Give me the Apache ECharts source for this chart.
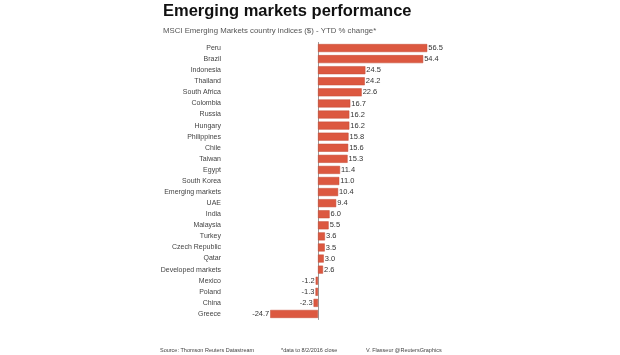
<!DOCTYPE html>
<html><head><meta charset="utf-8">
<script src="https://cdn.jsdelivr.net/npm/echarts@6/dist/echarts.min.js"></script>
<style>html,body{margin:0;padding:0;background:#fff}#c{width:620px;height:355px}</style>
</head><body><div id="c"></div>
<script>
const categories = ["Peru","Brazil","Indonesia","Thailand","South Africa","Colombia","Russia","Hungary","Philippines","Chile","Taiwan","Egypt","South Korea","Emerging markets","UAE","India","Malaysia","Turkey","Czech Republic","Qatar","Developed markets","Mexico","Poland","China","Greece"];
const values = [56.5,54.4,24.5,24.2,22.6,16.7,16.2,16.2,15.8,15.6,15.3,11.4,11.0,10.4,9.4,6.0,5.5,3.6,3.5,3.0,2.6,-1.2,-1.3,-2.3,-24.7];
const titleText = "Emerging markets performance";
const subtitleText = "MSCI Emerging Markets country indices ($) - YTD % change*";
const footerTexts = ["Source: Thomson Reuters Datastream","*data to 8/2/2016 close","V. Flasseur @ReutersGraphics"];

const chart = echarts.init(document.getElementById('c'), null, {renderer:'canvas'});
const ff = 'Liberation Sans, Arial, sans-serif';
chart.setOption({
  animation:false,
  textStyle:{fontFamily:ff},
  graphic:[
    {type:'text', left:163, top:3, style:{text:titleText, font:'bold 16.5px '+ff, fill:'#111'}},
    {type:'text', left:163, top:27, style:{text:subtitleText, font:'7.8px '+ff, fill:'#555'}},
    {type:'text', left:160, top:347, style:{text:footerTexts[0], font:'5.5px '+ff, fill:'#444'}},
    {type:'text', left:281, top:347, style:{text:footerTexts[1], font:'5.5px '+ff, fill:'#444'}},
    {type:'text', left:366, top:347, style:{text:footerTexts[2], font:'5.5px '+ff, fill:'#444'}}
  ],
  grid:{left:260, width:174, top:42.5, height:277, containLabel:false},
  xAxis:{type:'value', min:-30, max:60, show:false},
  yAxis:[
    {type:'category', data:categories, inverse:true,
     axisLine:{show:true, onZero:true, lineStyle:{color:'#999', width:1}},
     axisTick:{show:false}, axisLabel:{show:false}, splitLine:{show:false}},
    {type:'category', data:categories, inverse:true, position:'left',
     axisLine:{show:false, onZero:false}, axisTick:{show:false},
     axisLabel:{show:true, margin:39, fontSize:7, color:'#444', fontFamily:ff}, splitLine:{show:false}}
  ],
  series:[{
    type:'bar', yAxisIndex:0, barWidth:8,
    data: values.map(v => ({value:v, label:{position: v<0 ? 'left' : 'right'}})),
    itemStyle:{color:'#dc5840', borderColor:'#c44a35', borderWidth:0.5},
    label:{show:true, fontSize:7.5, color:'#333', distance:1, fontFamily:ff,
      formatter: p => p.value.toFixed(1)}
  }]
});
</script></body></html>
